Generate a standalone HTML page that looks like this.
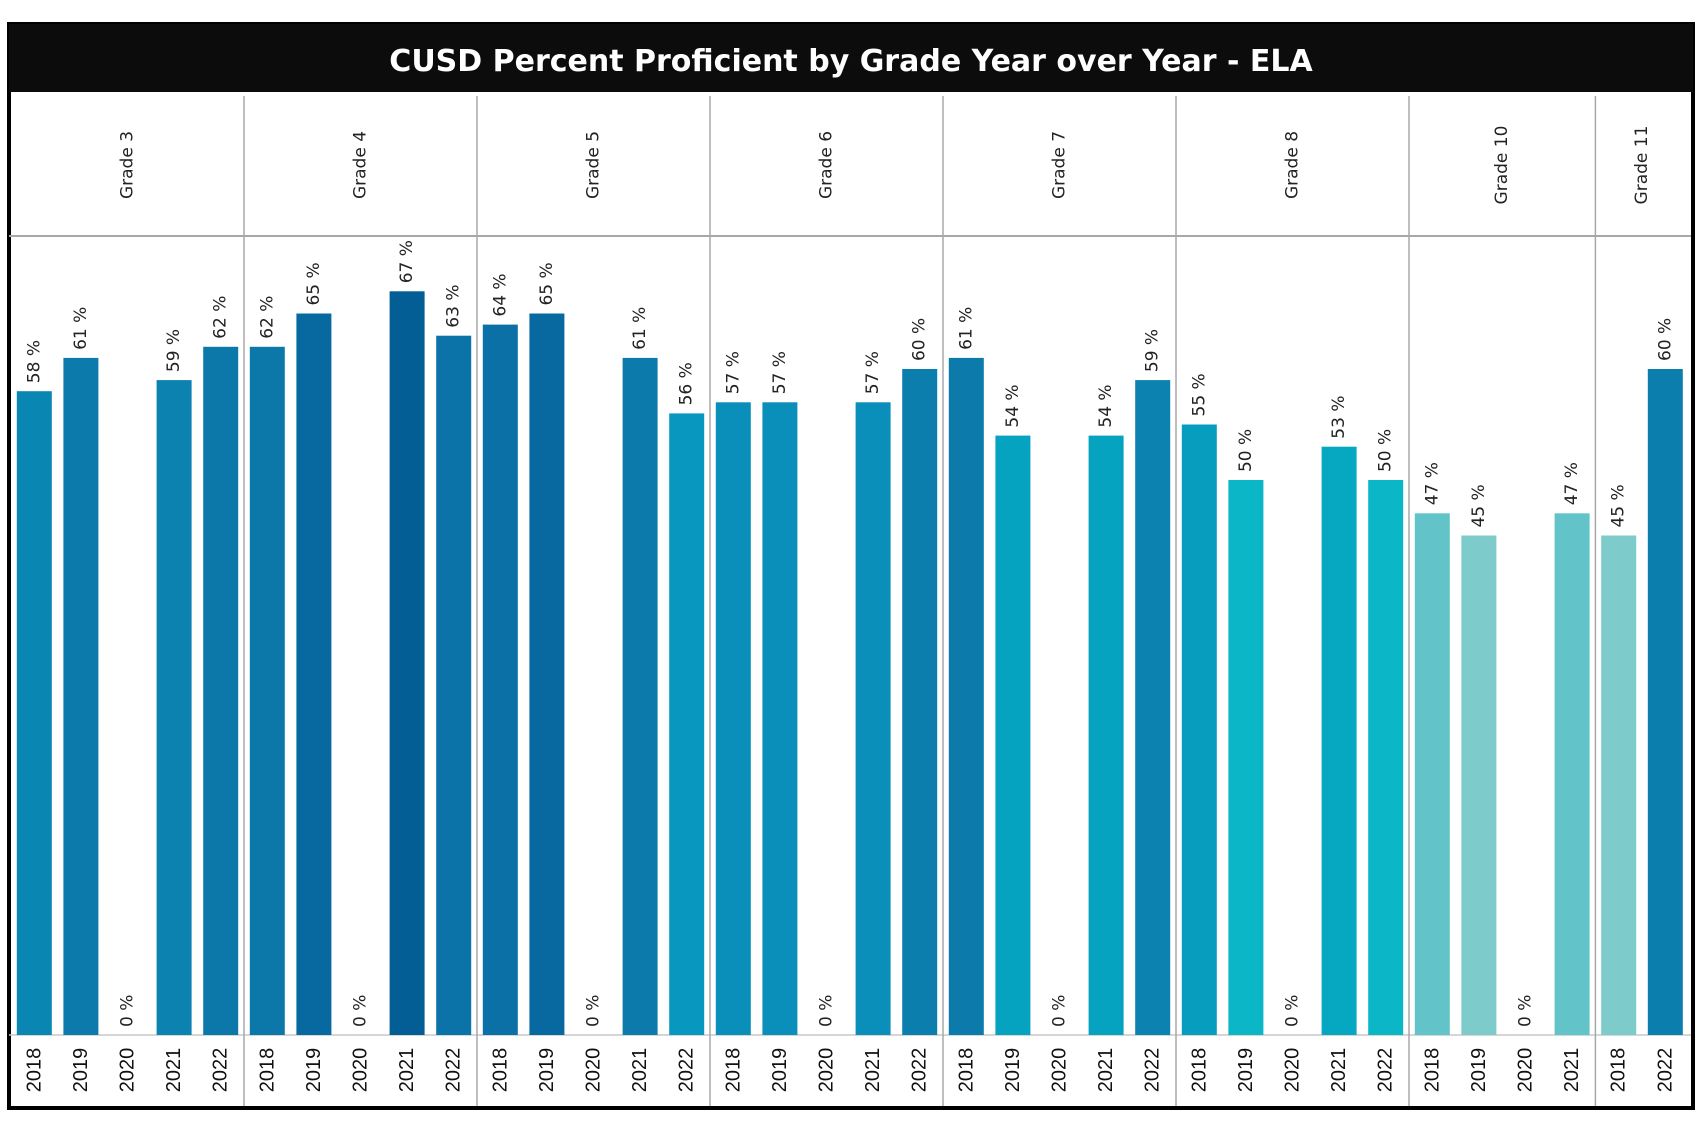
<!DOCTYPE html>
<html><head><meta charset="utf-8"><style>
html,body{margin:0;padding:0;background:#fff;width:1703px;height:1126px;overflow:hidden}
svg{display:block}
</style></head><body>
<svg id="chart" width="1703" height="1126" xmlns="http://www.w3.org/2000/svg">
  <rect x="9" y="24" width="1684" height="1084" fill="#fff" stroke="#000" stroke-width="4"/>
  <rect x="9" y="24" width="1684" height="68" fill="#0c0c0c"/>
  <text x="851" y="71" text-anchor="middle" fill="#fff" font-family="'DejaVu Sans','Liberation Sans',sans-serif" font-weight="bold" font-size="30">CUSD Percent Proficient by Grade Year over Year -  ELA</text>
  <g id="grid"></g>
  <g id="bars"></g>
</svg>
<script>
const grades = ["Grade 3","Grade 4","Grade 5","Grade 6","Grade 7","Grade 8","Grade 10","Grade 11"];
const gradeYears = [
  ["2018","2019","2020","2021","2022"],
  ["2018","2019","2020","2021","2022"],
  ["2018","2019","2020","2021","2022"],
  ["2018","2019","2020","2021","2022"],
  ["2018","2019","2020","2021","2022"],
  ["2018","2019","2020","2021","2022"],
  ["2018","2019","2020","2021"],
  ["2018","2022"]
];
const gradeValues = [
  [58,61,0,59,62],
  [62,65,0,67,63],
  [64,65,0,61,56],
  [57,57,0,57,60],
  [61,54,0,54,59],
  [55,50,0,53,50],
  [47,45,0,47],
  [45,60]
];

const NS = "http://www.w3.org/2000/svg";
const X0 = 11, SLOT = 46.6, BAR_W = 35;
const BASE = 1035, PER = 11.1;
const HEAD_TOP = 92, HEAD_BOT = 236, BOTTOM = 1106, RIGHT = 1691;
function yScale(v){ return BASE - v * PER; }
function xSlot(i){ return X0 + i * SLOT; }
function color(v){
  const stops = [[45,[126,203,204]],[47,[98,196,200]],[50,[11,182,198]],[53,[5,168,192]],[56,[8,152,191]],[58,[10,134,179]],[61,[12,122,171]],[64,[11,112,166]],[65,[8,104,160]],[67,[3,94,150]]];
  if (v <= stops[0][0]) return "rgb(" + stops[0][1].join(",") + ")";
  for (let i = 1; i < stops.length; i++) {
    if (v <= stops[i][0]) {
      const a = stops[i-1], b = stops[i], t = (v - a[0]) / (b[0] - a[0]);
      return "rgb(" + a[1].map((c, k) => Math.round(c + (b[1][k] - c) * t)).join(",") + ")";
    }
  }
  return "rgb(" + stops[stops.length-1][1].join(",") + ")";
}
function mk(tag, attrs, parent){
  const el = document.createElementNS(NS, tag);
  for (const k in attrs) el.setAttribute(k, attrs[k]);
  parent.appendChild(el);
  return el;
}
const grid = document.getElementById("grid");
const bars = document.getElementById("bars");
const FONT = "'DejaVu Sans','Liberation Sans',sans-serif";

let hl = mk("line", {x1:9, x2:RIGHT, y1:HEAD_BOT, y2:HEAD_BOT, stroke:"#a8a8a8", "stroke-width":2}, grid);


let bl = mk("line", {x1:9, x2:RIGHT, y1:BASE, y2:BASE, stroke:"#c8c8c8", "stroke-width":1.5}, grid);



let slot = 0;
grades.forEach((g, gi) => {
  const n = gradeYears[gi].length;
  const start = xSlot(slot), end = xSlot(slot + n);
  if (gi > 0) {
    const d = mk("line", {x1:start, x2:start, y1:HEAD_TOP + 4, y2:BOTTOM, stroke:"#a8a8a8", "stroke-width":1.5}, grid);
    
    
  }
  const cx = (start + end) / 2, cy = 165;
  const gl = mk("text", {x:cx, y:cy, transform:"rotate(-90 " + cx + " " + cy + ")", "text-anchor":"middle", "dominant-baseline":"central", "font-family":FONT, "font-size":17, fill:"#222"}, grid);
  gl.textContent = g;
  
  

  gradeYears[gi].forEach((yr, yi) => {
    const v = gradeValues[gi][yi];
    const sx = xSlot(slot + yi), bx = sx + (SLOT - BAR_W) / 2, mid = sx + SLOT / 2;
    if (v > 0) {
      const r = mk("rect", {x:bx, y:yScale(v), width:BAR_W, height:BASE - yScale(v), fill:color(v)}, bars);
      
      
    }
    const ly = yScale(v) - 8;
    const lt = mk("text", {x:mid, y:ly, transform:"rotate(-90 " + mid + " " + ly + ")", "text-anchor":"start", "dominant-baseline":"central", "font-family":FONT, "font-size":17, fill:"#222"}, bars);
    lt.textContent = v + " %";
    
    
    const yy = 1070;
    const yt = mk("text", {x:mid, y:yy, transform:"rotate(-90 " + mid + " " + yy + ")", "text-anchor":"middle", "dominant-baseline":"central", "font-family":"'Liberation Sans',sans-serif", "font-size":20, fill:"#111"}, bars);
    yt.textContent = yr;
    
    
  });
  slot += n;
});
</script>
</body></html>
